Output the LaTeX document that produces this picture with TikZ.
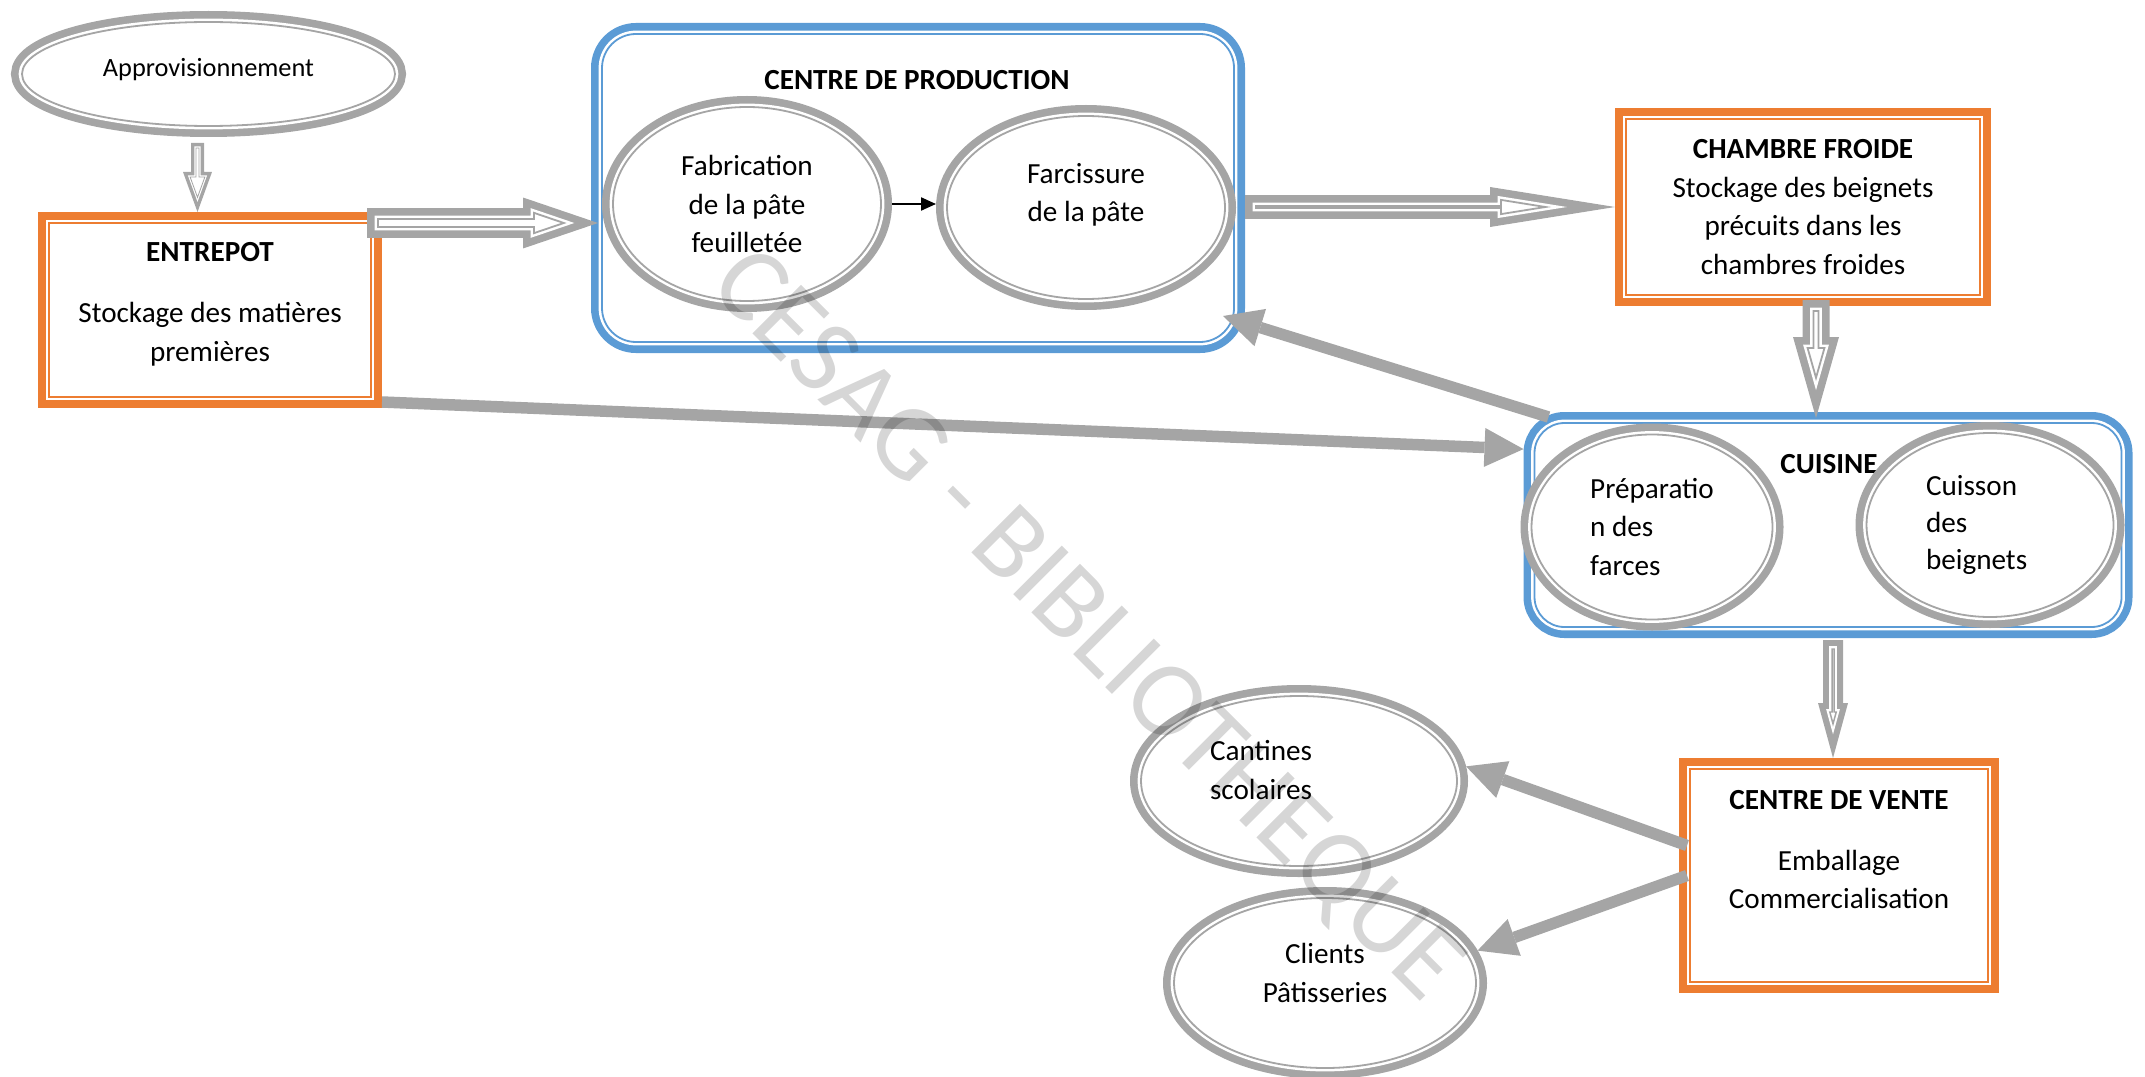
\documentclass[tikz,border=0pt]{standalone}
\usepackage{fontspec}
\setmainfont{Carlito}
\usepackage{tikz}
\usetikzlibrary{
	arrows.meta,
	calc,
	shapes.geometric
}
\usepackage{xcolor}

\definecolor{boxorange}{HTML}{ED7D31}
\definecolor{boxblue}{HTML}{5B9BD5}
\definecolor{arrowgray}{HTML}{A5A5A5}

\tikzset{
	twin/.style={draw=#1, line width=0.18mm,
		preaction={draw=#1, line width=2.2mm},
		preaction={fill=white},
		preaction={draw=white, line width=0.68mm},
		outer sep=1.1mm, inner sep=0pt},
	txt/.style={font=\fontsize{8.3}{11}\selectfont, align=center},
	head/.style={font=\fontsize{8.3}{11}\selectfont\bfseries},
	store/.style={twin=boxorange, rectangle, txt},
	zone/.style={twin=boxblue, rectangle, rounded corners=#1},
	task/.style={twin=arrowgray, ellipse, txt},
	flow/.style={draw=arrowgray, line width=1.15mm, -{Triangle[length=3.9mm, width=3.9mm, line width=0pt]}}
}

% hollow block arrow: band, from, to (outer tip), half shaft, half head, head length
\newcommand{\hollowarrow}[6]{%
	\pgfmathsetmacro{\arrE}{#1/sin(atan(#5/#6))}
	\pgfmathsetmacro{\arrH}{(#6-#1-\arrE)*#5/#6}
	\pgfmathsetmacro{\arrS}{#4-#1}
	\pgfmathsetmacro{\arrB}{#6-#1}
	\pgfmathsetmacro{\arrW}{2*#1}
	\pgfmathsetmacro{\arrG}{0.618*#1}
	\pgfmathsetmacro{\arrT}{0.164*#1}
	\coordinate (ha) at #2;
	\coordinate (hz) at #3;
	\coordinate (hs) at ($(ha)!#1cm!(hz)$);
	\coordinate (ht) at ($(hz)!\arrE cm!(ha)$);
	\coordinate (hb) at ($(hz)!\arrB cm!(ha)$);
	\draw[draw=arrowgray, line width=\arrT cm,
		preaction={draw=arrowgray, line width=\arrW cm},
		preaction={fill=white},
		preaction={draw=white, line width=\arrG cm}]
		($(hs)!\arrS cm!90:(ht)$) -- ($(hb)!\arrS cm!90:(ht)$) -- ($(hb)!\arrH cm!90:(ht)$) -- (ht)
		-- ($(hb)!\arrH cm!-90:(ht)$) -- ($(hb)!\arrS cm!-90:(ht)$) -- ($(hs)!\arrS cm!-90:(ht)$) -- cycle;
}

\begin{document}
\begin{tikzpicture}
	
	\useasboundingbox (0,0) rectangle (21.45,-10.77);
	
	% containers
	\node[zone=3.4mm, minimum width=6.32cm, minimum height=3.08cm] (prod) at (9.18,-1.88) {};
	\node[zone=3mm, minimum width=5.87cm, minimum height=2.04cm] (cuisine) at (18.28,-5.25) {};
	\node[head] (prodtitle) at (9.17,-0.80) {CENTRE DE PRODUCTION};
	\node[head] (cuisinetitle) at (18.29,-4.64) {CUISINE};
	
	% steps
	\node[task, minimum width=3.73cm, minimum height=1.04cm, font=\fontsize{7.5}{9}\selectfont] (appro) at (2.085,-0.74) {Approvisionnement\rule[-1.4mm]{0pt}{1.4mm}};
	\node[store, minimum width=3.22cm, minimum height=1.74cm] (entrepot) at (2.10,-3.10) {\textbf{ENTREPOT}\\[2.2mm]Stockage des matières\\premières\rule[-1.6mm]{0pt}{1.6mm}};
	\node[task, minimum width=2.68cm, minimum height=1.94cm] (fab) at (7.47,-2.04) {Fabrication\\de la pâte\\feuilletée};
	\node[task, minimum width=2.78cm, minimum height=1.83cm] (farc) at (10.86,-2.075) {Farcissure\\de la pâte\rule[-3mm]{0pt}{3mm}};
	\node[store, minimum width=3.54cm, minimum height=1.76cm] (chambre) at (18.03,-2.07) {\textbf{CHAMBRE FROIDE}\\Stockage des beignets\\précuits dans les\\chambres froides};
	\node[task, minimum width=2.41cm, minimum height=1.85cm, align=left] (prep) at (16.52,-5.27) {Préparatio\\n des\\farces};
	\node[task, minimum width=2.47cm, minimum height=1.84cm, text width=1.28cm, align=left, font=\fontsize{8.3}{10.4}\selectfont] (cuis) at (19.90,-5.25) {Cuisson\\des\\beignets};
	\node[store, minimum width=2.98cm, minimum height=2.13cm] (vente) at (18.39,-8.755) {\textbf{CENTRE DE VENTE}\\[2.2mm]Emballage\\Commercialisation\rule[-5.2mm]{0pt}{5.2mm}};
	\node[task, minimum width=3.16cm, minimum height=1.70cm, text width=1.78cm, align=left] (cant) at (12.99,-7.81) {Cantines\\scolaires\rule[-2.2mm]{0pt}{2.2mm}};
	\node[task, minimum width=3.02cm, minimum height=1.70cm] (clients) at (13.25,-9.83) {Clients\\Pâtisseries\rule[-2mm]{0pt}{2mm}};
	
	% hollow arrows
	\hollowarrow{0.05}{([xshift=-1.1mm,yshift=-0.6mm]appro.south)}{([xshift=-1.25mm]entrepot.north)}{0.065}{0.145}{0.40}
	\hollowarrow{0.11}{([xshift=-1.5mm,yshift=8.7mm]entrepot.east)}{([xshift=0.7mm,yshift=-3.5mm]prod.west)}{0.15}{0.255}{0.75}
	\hollowarrow{0.11}{(prod.east |- chambre.west)}{(chambre.west)}{0.12}{0.20}{1.25}
	\hollowarrow{0.11}{([xshift=1.3mm,yshift=0.6mm]chambre.south)}{([xshift=-1.2mm,yshift=-0.6mm]cuisine.north)}{0.135}{0.23}{0.81}
	\hollowarrow{0.09}{([xshift=0.5mm,yshift=-0.2mm]cuisine.south)}{([xshift=-0.6mm]vente.north)}{0.10}{0.15}{0.55}
	
	% plain arrows
	\draw[line width=0.6pt, -{Triangle[length=1.5mm, width=1.3mm]}] (fab.east) -- (fab.east -| farc.west);
	\draw[flow] ([yshift=0.6mm]entrepot.south east) -- (cuisine.166);
	\draw[flow] ([xshift=2.5mm,yshift=-0.5mm]cuisine.north west) -- ([xshift=-2.2mm,yshift=3.7mm]prod.south east);
	\draw[flow] ([xshift=0.8mm,yshift=3mm]vente.west) -- (cant.5);
	\draw[flow] ([xshift=0.8mm]vente.west) -- (clients.12);
	
	% watermark
	\node[rotate=-45, text=black, text opacity=0.16, font=\fontsize{30.5}{30.5}\selectfont] (wm) at (10.85,-6.27) {CESAG - BIBLIOTHEQUE};
	
\end{tikzpicture}
\end{document}
